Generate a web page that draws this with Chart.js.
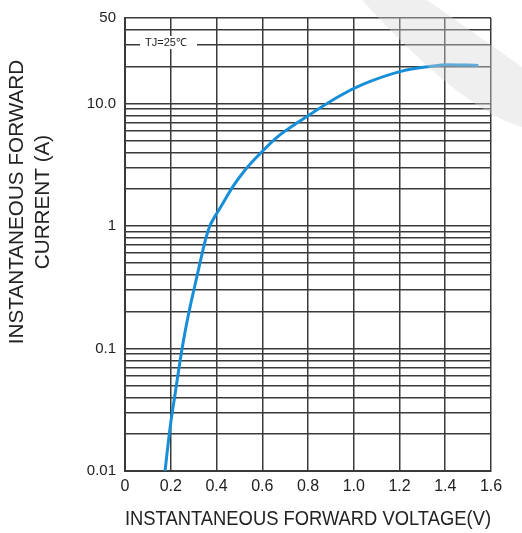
<!DOCTYPE html>
<html>
<head>
<meta charset="utf-8">
<script src="https://cdn.jsdelivr.net/npm/chart.js@4.4.0/dist/chart.umd.min.js"></script>
<style>
  html, body { margin: 0; padding: 0; background: #fff; }
  #wrap { width: 522px; height: 533px; }
</style>
</head>
<body>
<div id="wrap"><canvas id="ivCurve" width="522" height="533"></canvas></div>
<script>
// forward voltage (V) / forward current (A)
var voltage = [0.175, 0.197, 0.219, 0.240, 0.262, 0.284, 0.306, 0.328, 0.350, 0.361, 0.372, 0.383,
               0.393, 0.411, 0.430, 0.473, 0.525, 0.576, 0.663, 0.765, 0.940, 1.042, 1.210, 1.333, 1.406, 1.545];
var current = [0.01, 0.0225, 0.0426, 0.0778, 0.135, 0.217, 0.330, 0.502, 0.750, 0.885, 1.015, 1.11,
               1.20, 1.36, 1.56, 2.12, 2.87, 3.66, 5.28, 7.2, 11.6, 14.4, 18.4, 20.1, 20.8, 20.5];

var xTickLabels = ['0', '0.2', '0.4', '0.6', '0.8', '1.0', '1.2', '1.4', '1.6'];
var yTickValues = [0.01, 0.02, 0.03, 0.04, 0.05, 0.06, 0.07, 0.08, 0.09,
                   0.1, 0.2, 0.3, 0.4, 0.5, 0.6, 0.7, 0.8, 0.9,
                   1, 2, 3, 4, 5, 6, 7, 8, 9,
                   10, 20, 30, 40, 50];
var yTickLabels = { 0.01: '0.01', 0.1: '0.1', 1: '1', 10: '10.0', 50: '50' };

var points = voltage.map(function (v, i) { return { x: v, y: current[i] }; });

var FONT = '"Liberation Sans", Arial, sans-serif';
var GRID = '#3a3a3a';

// y title sits higher than the chart area centre in the original, so draw it ourselves
var extraText = {
    id: 'extraText',
    afterDraw: function (chart) {
        var ctx = chart.ctx;
        ctx.save();
        // Tj note on the 30 A line
        ctx.fillStyle = '#fff';
        ctx.fillRect(140, 36, 57, 13);
        ctx.fillStyle = '#222';
        ctx.font = '11px ' + FONT;
        ctx.textAlign = 'center';
        ctx.textBaseline = 'middle';
        ctx.fillText('TJ=25\u2103', 166, 43);

        // faint watermark swoosh, top right
        ctx.fillStyle = 'rgba(215,215,215,0.4)';
        ctx.beginPath();
        ctx.moveTo(362, 0);
        ctx.quadraticCurveTo(462, 110, 522, 127);
        ctx.lineTo(522, 67);
        ctx.quadraticCurveTo(470, 30, 427, 0);
        ctx.closePath();
        ctx.fill();

        ctx.fillStyle = '#222';
        ctx.font = '20.7px ' + FONT;
        ctx.translate(0, 202);
        ctx.rotate(-Math.PI / 2);
        ctx.fillText('INSTANTANEOUS FORWARD', 0, 17);
        ctx.fillText('CURRENT (A)', 0, 43);
        ctx.restore();
    }
};

var ivChart = new Chart(document.getElementById('ivCurve').getContext('2d'), {
    type: 'line',
    data: {
        datasets: [{
            data: points,
            borderColor: '#178ed8',
            borderWidth: 3,
            pointRadius: 0,
            fill: false,
            cubicInterpolationMode: 'monotone'
        }]
    },
    options: {
        responsive: false,
        animation: false,
        devicePixelRatio: 1,
        layout: { padding: { left: 0, right: 31, top: 14, bottom: 0 } },
        plugins: {
            legend: { display: false },
            tooltip: { enabled: false }
        },
        scales: {
            x: {
                type: 'linear',
                min: 0,
                max: 1.6,
                ticks: {
                    stepSize: 0.2,
                    padding: 6,
                    color: '#222',
                    font: { family: FONT, size: 16 },
                    callback: function (value, index) { return xTickLabels[index]; }
                },
                grid: { color: GRID, lineWidth: 1.5, drawTicks: false },
                border: { color: GRID, width: 2 },
                title: {
                    display: true,
                    text: 'INSTANTANEOUS FORWARD VOLTAGE(V)',
                    color: '#222',
                    font: { family: FONT, size: 20.7 },
                    padding: { top: 0, bottom: 1 }
                },
                afterFit: function (scale) { scale.height = 62; }
            },
            y: {
                type: 'logarithmic',
                min: 0.01,
                max: 50,
                afterBuildTicks: function (scale) {
                    scale.ticks = yTickValues.map(function (v) { return { value: v }; });
                },
                ticks: {
                    autoSkip: false,
                    padding: 9,
                    color: '#222',
                    font: { family: FONT, size: 15 },
                    callback: function (value) { return yTickLabels[value] || ''; }
                },
                grid: { color: GRID, lineWidth: 1.5, drawTicks: false },
                border: { color: GRID, width: 2 },
                afterFit: function (scale) { scale.width = 125; }
            }
        }
    },
    plugins: [extraText]
});
</script>
</body>
</html>
